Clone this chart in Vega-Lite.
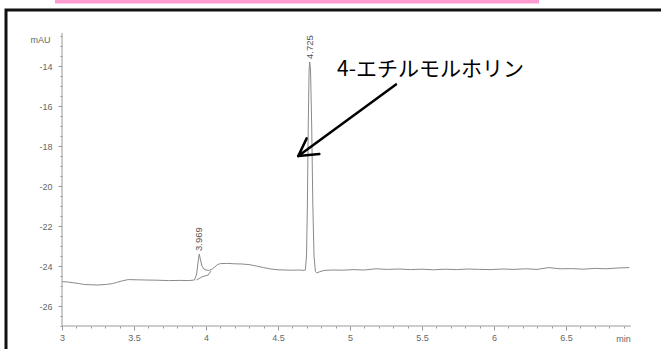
{
  "$schema": "https://vega.github.io/schema/vega-lite/v6.json",
  "width": 665,
  "height": 349,
  "autosize": {"type": "none"},
  "padding": {"left": 6, "top": 10, "right": 0, "bottom": 0},
  "background": "white",
  "config": {
    "view": {"stroke": "#111111", "strokeWidth": 3},
    "axis": {
      "grid": false,
      "domain": false,
      "labelFont": "Liberation Sans",
      "labelFontSize": 9,
      "labelColor": "#666666",
      "tickColor": "#999999",
      "tickWidth": 1,
      "titleFont": "Liberation Sans",
      "titleFontSize": 9,
      "titleFontWeight": "normal",
      "titleColor": "#666666"
    }
  },
  "datasets": {
    "trace": [
      {"series": "signal", "t": 3.00, "v": -24.78},
      {"series": "signal", "t": 3.04, "v": -24.80},
      {"series": "signal", "t": 3.08, "v": -24.84},
      {"series": "signal", "t": 3.12, "v": -24.88},
      {"series": "signal", "t": 3.15, "v": -24.92},
      {"series": "signal", "t": 3.20, "v": -24.94},
      {"series": "signal", "t": 3.25, "v": -24.95},
      {"series": "signal", "t": 3.31, "v": -24.92},
      {"series": "signal", "t": 3.35, "v": -24.88},
      {"series": "signal", "t": 3.38, "v": -24.82},
      {"series": "signal", "t": 3.42, "v": -24.74},
      {"series": "signal", "t": 3.46, "v": -24.68},
      {"series": "signal", "t": 3.52, "v": -24.69},
      {"series": "signal", "t": 3.58, "v": -24.70},
      {"series": "signal", "t": 3.66, "v": -24.71},
      {"series": "signal", "t": 3.74, "v": -24.73},
      {"series": "signal", "t": 3.82, "v": -24.72},
      {"series": "signal", "t": 3.88, "v": -24.73},
      {"series": "signal", "t": 3.92, "v": -24.70},
      {"series": "signal", "t": 3.935, "v": -24.40},
      {"series": "signal", "t": 3.945, "v": -23.80},
      {"series": "signal", "t": 3.953, "v": -23.40},
      {"series": "signal", "t": 3.962, "v": -23.70},
      {"series": "signal", "t": 3.972, "v": -24.00},
      {"series": "signal", "t": 3.985, "v": -24.15},
      {"series": "signal", "t": 4.00, "v": -24.20},
      {"series": "signal", "t": 4.02, "v": -24.22},
      {"series": "signal", "t": 4.04, "v": -24.17},
      {"series": "signal", "t": 4.06, "v": -24.05},
      {"series": "signal", "t": 4.08, "v": -23.93},
      {"series": "signal", "t": 4.10, "v": -23.88},
      {"series": "signal", "t": 4.15, "v": -23.87},
      {"series": "signal", "t": 4.20, "v": -23.89},
      {"series": "signal", "t": 4.25, "v": -23.90},
      {"series": "signal", "t": 4.30, "v": -23.93},
      {"series": "signal", "t": 4.35, "v": -24.00},
      {"series": "signal", "t": 4.40, "v": -24.08},
      {"series": "signal", "t": 4.45, "v": -24.15},
      {"series": "signal", "t": 4.50, "v": -24.19},
      {"series": "signal", "t": 4.55, "v": -24.20},
      {"series": "signal", "t": 4.60, "v": -24.21},
      {"series": "signal", "t": 4.65, "v": -24.20},
      {"series": "signal", "t": 4.68, "v": -24.22},
      {"series": "signal", "t": 4.690, "v": -24.20},
      {"series": "signal", "t": 4.698, "v": -23.50},
      {"series": "signal", "t": 4.704, "v": -21.00},
      {"series": "signal", "t": 4.710, "v": -17.00},
      {"series": "signal", "t": 4.716, "v": -14.20},
      {"series": "signal", "t": 4.720, "v": -13.80},
      {"series": "signal", "t": 4.726, "v": -14.20},
      {"series": "signal", "t": 4.734, "v": -17.00},
      {"series": "signal", "t": 4.742, "v": -21.00},
      {"series": "signal", "t": 4.750, "v": -23.50},
      {"series": "signal", "t": 4.760, "v": -24.28},
      {"series": "signal", "t": 4.770, "v": -24.35},
      {"series": "signal", "t": 4.785, "v": -24.30},
      {"series": "signal", "t": 4.82, "v": -24.22},
      {"series": "signal", "t": 4.88, "v": -24.20},
      {"series": "signal", "t": 4.95, "v": -24.21},
      {"series": "signal", "t": 5.02, "v": -24.18},
      {"series": "signal", "t": 5.10, "v": -24.20},
      {"series": "signal", "t": 5.18, "v": -24.14},
      {"series": "signal", "t": 5.26, "v": -24.17},
      {"series": "signal", "t": 5.34, "v": -24.15},
      {"series": "signal", "t": 5.42, "v": -24.18},
      {"series": "signal", "t": 5.50, "v": -24.16},
      {"series": "signal", "t": 5.58, "v": -24.19},
      {"series": "signal", "t": 5.66, "v": -24.16},
      {"series": "signal", "t": 5.74, "v": -24.18},
      {"series": "signal", "t": 5.82, "v": -24.15},
      {"series": "signal", "t": 5.90, "v": -24.17},
      {"series": "signal", "t": 5.98, "v": -24.18},
      {"series": "signal", "t": 6.06, "v": -24.15},
      {"series": "signal", "t": 6.14, "v": -24.17},
      {"series": "signal", "t": 6.22, "v": -24.14},
      {"series": "signal", "t": 6.30, "v": -24.17},
      {"series": "signal", "t": 6.38, "v": -24.08},
      {"series": "signal", "t": 6.46, "v": -24.14},
      {"series": "signal", "t": 6.54, "v": -24.13},
      {"series": "signal", "t": 6.62, "v": -24.16},
      {"series": "signal", "t": 6.70, "v": -24.12},
      {"series": "signal", "t": 6.78, "v": -24.14},
      {"series": "signal", "t": 6.86, "v": -24.10},
      {"series": "signal", "t": 6.94, "v": -24.08},
      {"series": "baseline", "t": 3.935, "v": -24.70},
      {"series": "baseline", "t": 3.97, "v": -24.55},
      {"series": "baseline", "t": 4.015, "v": -24.45},
      {"series": "baseline", "t": 4.035, "v": -24.25}
    ],
    "peaks": [
      {"t": 3.953, "v": -23.40, "label": "3.969"},
      {"t": 4.720, "v": -13.80, "label": "4.725"}
    ],
    "axislines": [
      {"t": 3, "v": -27, "t2": 6.95, "v2": -27},
      {"t": 3, "v": -27, "t2": 3, "v2": -12.35}
    ],
    "arrow": [
      {"part": "shaft", "t": 5.319, "v": -14.92, "t2": 4.641, "v2": -18.5},
      {"part": "wing1", "t": 4.699, "v": -17.62, "t2": 4.641, "v2": -18.5},
      {"part": "wing2", "t": 4.787, "v": -18.4, "t2": 4.641, "v2": -18.5}
    ],
    "note": [
      {"t": 4.91, "v": -14.2, "label": "4-エチルモルホリン"}
    ],
    "band": [
      {"t": 2.951, "t2": 6.3125, "v": -10.7, "v2": -10.87}
    ]
  },
  "layer": [
    {
      "data": {"name": "trace"},
      "mark": {"type": "line", "stroke": "#8a8a8a", "strokeWidth": 1, "clip": false},
      "encoding": {
        "x": {
          "field": "t", "type": "quantitative",
          "scale": {"domain": [2.61111, 7.22917], "nice": false, "zero": false},
          "axis": {
            "orient": "bottom",
            "offset": -33,
            "title": "min",
            "titleX": 617,
            "titleY": 15,
            "titleAlign": "center",
            "titleBaseline": "alphabetic",
            "tickCount": 200,
            "values": [3,3.1,3.2,3.3,3.4,3.5,3.6,3.7,3.8,3.9,4,4.1,4.2,4.3,4.4,4.5,4.6,4.7,4.8,4.9,5,5.1,5.2,5.3,5.4,5.5,5.6,5.7,5.8,5.9,6,6.1,6.2,6.3,6.4,6.5,6.6,6.7,6.8,6.9],
            "labelExpr": "abs(datum.value*2 - round(datum.value*2)) < 0.001 ? format(datum.value, '~g') : ''",
            "tickSize": {"condition": {"test": "abs(datum.value*2 - round(datum.value*2)) < 0.001", "value": 4}, "value": 2},
            "labelPadding": 3,
            "labelFlush": false,
            "labelOverlap": false
          }
        },
        "y": {
          "field": "v", "type": "quantitative",
          "scale": {"domain": [-28.65, -11.2], "nice": false, "zero": false},
          "axis": {
            "orient": "left",
            "offset": -56,
            "title": "mAU",
            "titleAngle": 0,
            "titleX": -22,
            "titleY": 29,
            "titleAlign": "center",
            "titleBaseline": "middle",
            "tickCount": 200,
            "values": [-27,-26.5,-26,-25.5,-25,-24.5,-24,-23.5,-23,-22.5,-22,-21.5,-21,-20.5,-20,-19.5,-19,-18.5,-18,-17.5,-17,-16.5,-16,-15.5,-15,-14.5,-14,-13.5,-13,-12.5],
            "labelExpr": "datum.value % 2 == 0 ? toString(datum.value) : ''",
            "tickSize": {"condition": {"test": "datum.value % 2 == 0", "value": 4}, "value": 2},
            "labelPadding": 6,
            "labelFlush": false,
            "labelOverlap": false
          }
        },
        "detail": {"field": "series", "type": "nominal"}
      }
    },
    {
      "data": {"name": "axislines"},
      "mark": {"type": "rule", "stroke": "#9a9a9a", "strokeWidth": 1},
      "encoding": {
        "x": {"field": "t", "type": "quantitative"},
        "y": {"field": "v", "type": "quantitative"},
        "x2": {"field": "t2"},
        "y2": {"field": "v2"}
      }
    },
    {
      "data": {"name": "peaks"},
      "mark": {"type": "text", "angle": 270, "align": "left", "baseline": "middle", "dx": 3, "font": "Liberation Sans", "fontSize": 9.5, "fill": "#555555"},
      "encoding": {
        "x": {"field": "t", "type": "quantitative"},
        "y": {"field": "v", "type": "quantitative"},
        "text": {"field": "label"}
      }
    },
    {
      "data": {"name": "arrow"},
      "mark": {"type": "rule", "stroke": "#000000", "strokeWidth": 2.5, "strokeCap": "round"},
      "encoding": {
        "x": {"field": "t", "type": "quantitative"},
        "y": {"field": "v", "type": "quantitative"},
        "x2": {"field": "t2"},
        "y2": {"field": "v2"}
      }
    },
    {
      "data": {"name": "note"},
      "mark": {"type": "text", "align": "left", "baseline": "middle", "font": "Noto Sans CJK JP", "fontSize": 21, "fill": "#000000"},
      "encoding": {
        "x": {"field": "t", "type": "quantitative"},
        "y": {"field": "v", "type": "quantitative"},
        "text": {"field": "label"}
      }
    },
    {
      "data": {"name": "band"},
      "mark": {"type": "rect", "fill": "#ff9ccf", "clip": false},
      "encoding": {
        "x": {"field": "t", "type": "quantitative"},
        "x2": {"field": "t2"},
        "y": {"field": "v", "type": "quantitative"},
        "y2": {"field": "v2"}
      }
    }
  ]
}
